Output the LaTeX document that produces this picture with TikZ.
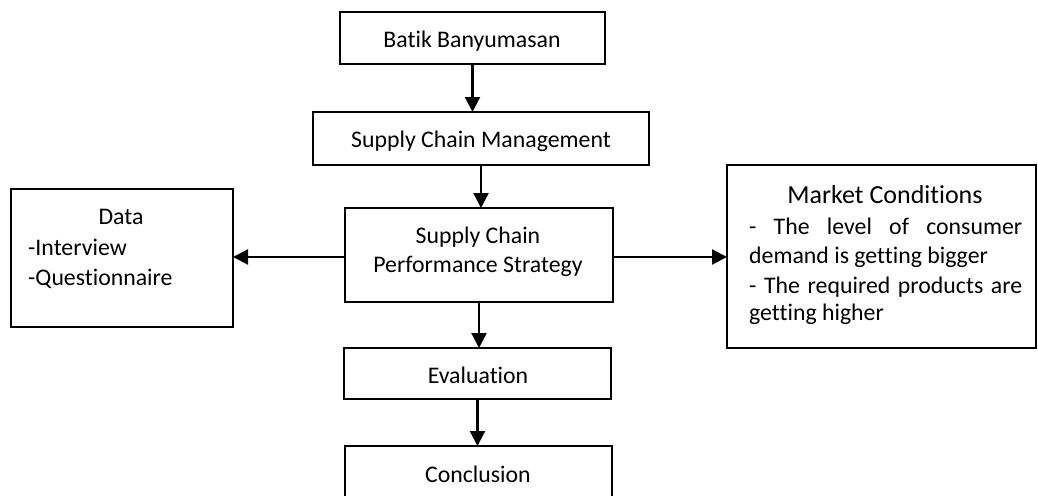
\documentclass[tikz,border=0pt]{standalone}
\usepackage{fontspec}
\setmainfont{Carlito}[Ligatures=NoCommon]
\usetikzlibrary{arrows.meta}
\begin{document}
\begin{tikzpicture}[x=1pt,y=-1pt,
  box/.style={draw,line width=2.2pt,rectangle,inner sep=0pt,outer sep=0pt},
  txt/.style={anchor=base,inner sep=0pt,font=\fontsize{23.8}{29}\selectfont},
  ltxt/.style={anchor=base west,inner sep=0pt,font=\fontsize{23.8}{29}\selectfont},
  arr/.style={line width=2.2pt,-{Triangle[length=15pt,width=15pt]}}]
\useasboundingbox (0,0) rectangle (1038,495);
\clip (0,0) rectangle (1038,495);
% boxes
\node[box,minimum width=265pt,minimum height=52pt] (batik) at (472.5,38) {};
\node[box,minimum width=336pt,minimum height=53pt] (scm) at (481,138.5) {};
\node[box,minimum width=268pt,minimum height=94pt] (scps) at (479,255) {};
\node[box,minimum width=267pt,minimum height=51pt] (eval) at (477.5,373.5) {};
\node[box,minimum width=267pt,minimum height=64pt] (concl) at (478.5,478) {};
\node[box,minimum width=222pt,minimum height=138pt] (data) at (122,258) {};
\node[box,minimum width=309pt,minimum height=183pt] (market) at (881.5,256.5) {};
% texts
\node[txt] (tbatik) at (472,48) {Batik Banyumasan};
\node[txt] (tscm) at (481,147) {Supply Chain Management};
\node[txt] (tscps1) at (478,243) {Supply Chain};
\node[txt] (tscps2) at (478,272) {Performance Strategy};
\node[txt] (teval) at (478,383) {Evaluation};
\node[txt] (tconcl) at (478,482) {Conclusion};
\node[txt] (tdata) at (121,224) {Data};
\node[ltxt] (tdata1) at (28,255) {-Interview};
\node[ltxt] (tdata2) at (28,285) {-Questionnaire};
\node[txt,font=\fontsize{26}{31}\selectfont] (tmarket) at (885,203) {Market Conditions};
\node[ltxt] (tm1) at (749,234) {\makebox[273pt][s]{- The level of consumer}};
\node[ltxt] (tm2) at (749,263) {demand is getting bigger};
\node[ltxt] (tm3) at (749,293) {\makebox[273pt][s]{- The required products are}};
\node[ltxt] (tm4) at (749,320) {getting higher};
% arrows
\draw[arr] (batik.south) -- (batik.south |- scm.north);
\draw[arr] (scm.south) -- (scm.south |- scps.north);
\draw[arr] (scps.south) -- (scps.south |- eval.north);
\draw[arr] (eval.south) -- (eval.south |- concl.north);
\draw[arr] ([yshift=-2pt]scps.west) -- ([yshift=-2pt]scps.west -| data.east);
\draw[arr] ([yshift=-2pt]scps.east) -- ([yshift=-2pt]scps.east -| market.west);
\end{tikzpicture}
\end{document}
